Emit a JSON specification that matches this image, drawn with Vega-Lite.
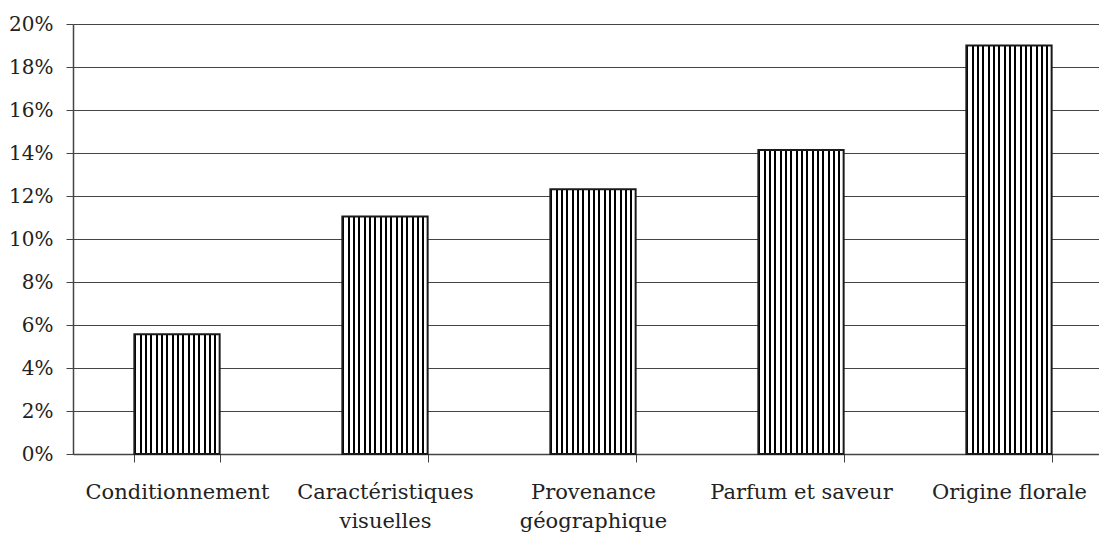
{
  "$schema": "https://vega.github.io/schema/vega-lite/v6.json",
  "autosize": {"type": "none"},
  "padding": {"left": 73, "top": 24, "right": 0, "bottom": 84},
  "width": 1026,
  "height": 430,
  "background": "white",
  "data": {
    "values": [
      {"critere": "Conditionnement", "part": 0.0557},
      {"critere": "Caractéristiques visuelles", "part": 0.1105},
      {"critere": "Provenance géographique", "part": 0.1231},
      {"critere": "Parfum et saveur", "part": 0.1414},
      {"critere": "Origine florale", "part": 0.19}
    ]
  },
  "mark": {
    "type": "bar",
    "stroke": "#1a1a1a",
    "strokeWidth": 2,
    "fill": {
      "gradient": "linear",
      "x1": 0, "y1": 0, "x2": 1, "y2": 0,
      "stops": [
        {"offset": 0, "color": "#000"}, {"offset": 0.024, "color": "#000"}, {"offset": 0.024, "color": "#fff"}, {"offset": 0.0625, "color": "#fff"},
        {"offset": 0.0625, "color": "#000"}, {"offset": 0.0865, "color": "#000"}, {"offset": 0.0865, "color": "#fff"}, {"offset": 0.125, "color": "#fff"},
        {"offset": 0.125, "color": "#000"}, {"offset": 0.149, "color": "#000"}, {"offset": 0.149, "color": "#fff"}, {"offset": 0.1875, "color": "#fff"},
        {"offset": 0.1875, "color": "#000"}, {"offset": 0.2115, "color": "#000"}, {"offset": 0.2115, "color": "#fff"}, {"offset": 0.25, "color": "#fff"},
        {"offset": 0.25, "color": "#000"}, {"offset": 0.274, "color": "#000"}, {"offset": 0.274, "color": "#fff"}, {"offset": 0.3125, "color": "#fff"},
        {"offset": 0.3125, "color": "#000"}, {"offset": 0.3365, "color": "#000"}, {"offset": 0.3365, "color": "#fff"}, {"offset": 0.375, "color": "#fff"},
        {"offset": 0.375, "color": "#000"}, {"offset": 0.399, "color": "#000"}, {"offset": 0.399, "color": "#fff"}, {"offset": 0.4375, "color": "#fff"},
        {"offset": 0.4375, "color": "#000"}, {"offset": 0.4615, "color": "#000"}, {"offset": 0.4615, "color": "#fff"}, {"offset": 0.5, "color": "#fff"},
        {"offset": 0.5, "color": "#000"}, {"offset": 0.524, "color": "#000"}, {"offset": 0.524, "color": "#fff"}, {"offset": 0.5625, "color": "#fff"},
        {"offset": 0.5625, "color": "#000"}, {"offset": 0.5865, "color": "#000"}, {"offset": 0.5865, "color": "#fff"}, {"offset": 0.625, "color": "#fff"},
        {"offset": 0.625, "color": "#000"}, {"offset": 0.649, "color": "#000"}, {"offset": 0.649, "color": "#fff"}, {"offset": 0.6875, "color": "#fff"},
        {"offset": 0.6875, "color": "#000"}, {"offset": 0.7115, "color": "#000"}, {"offset": 0.7115, "color": "#fff"}, {"offset": 0.75, "color": "#fff"},
        {"offset": 0.75, "color": "#000"}, {"offset": 0.774, "color": "#000"}, {"offset": 0.774, "color": "#fff"}, {"offset": 0.8125, "color": "#fff"},
        {"offset": 0.8125, "color": "#000"}, {"offset": 0.8365, "color": "#000"}, {"offset": 0.8365, "color": "#fff"}, {"offset": 0.875, "color": "#fff"},
        {"offset": 0.875, "color": "#000"}, {"offset": 0.899, "color": "#000"}, {"offset": 0.899, "color": "#fff"}, {"offset": 0.9375, "color": "#fff"},
        {"offset": 0.9375, "color": "#000"}, {"offset": 0.9615, "color": "#000"}, {"offset": 0.9615, "color": "#fff"}, {"offset": 1, "color": "#fff"}
      ]
    }
  },
  "encoding": {
    "x": {
      "field": "critere",
      "type": "nominal",
      "sort": null,
      "scale": {"range": [0, 1040], "paddingInner": 0.59, "paddingOuter": 0.295},
      "axis": {
        "title": null,
        "labelAngle": 0,
        "labelFont": "DejaVu Serif",
        "labelFontSize": 21,
        "labelColor": "#222",
        "labelPadding": 19,
        "labelLineHeight": 29,
        "labelLimit": 0,
        "labelOverlap": false,
        "labelExpr": "datum.value == 'Caractéristiques visuelles' || datum.value == 'Provenance géographique' ? split(datum.value, ' ') : datum.value",
        "tickBand": "extent",
        "tickSize": 8,
        "tickColor": "#444",
        "domainColor": "#444",
        "domainWidth": 1.5,
        "grid": false
      }
    },
    "y": {
      "field": "part",
      "type": "quantitative",
      "scale": {"domain": [0, 0.2], "nice": false},
      "axis": {
        "title": null,
        "values": [0, 0.02, 0.04, 0.06, 0.08, 0.1, 0.12, 0.14, 0.16, 0.18, 0.2],
        "format": ".0%",
        "labelFont": "DejaVu Serif",
        "labelFontSize": 20,
        "labelColor": "#222",
        "labelPadding": 13,
        "tickSize": 7,
        "tickColor": "#444",
        "domainColor": "#444",
        "domainWidth": 1.5,
        "grid": true,
        "gridColor": "#444",
        "gridWidth": 1
      }
    }
  },
  "config": {"view": {"stroke": null}}
}
